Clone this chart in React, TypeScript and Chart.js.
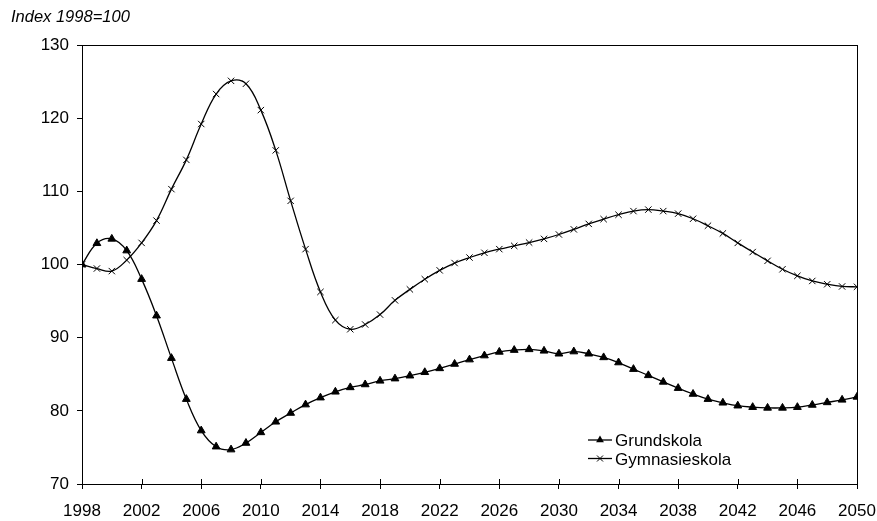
import React, { useEffect, useRef } from "react";
import { Chart, registerables } from "chart.js";

Chart.register(...registerables);

const years: number[] = [];
for (let y = 1998; y <= 2050; y++) years.push(y);

const grundskola = [
  100, 102.9, 103.5, 101.9, 98.0, 93.0, 87.2, 81.6, 77.3, 75.1,
  74.7, 75.6, 77.05, 78.5, 79.7, 80.85, 81.8, 82.6, 83.2, 83.6,
  84.1, 84.4, 84.8, 85.27, 85.8, 86.4, 87.0, 87.55, 88.05, 88.3,
  88.4, 88.2, 87.8, 88.1, 87.8, 87.3, 86.6, 85.7, 84.85, 83.95,
  83.1, 82.3, 81.6, 81.1, 80.7, 80.5, 80.4, 80.4, 80.5, 80.8,
  81.15, 81.5, 81.9,
];

const gymnasieskola = [
  100, 99.45, 99.1, 100.6, 102.95, 106.0, 110.3, 114.3, 119.2, 123.3,
  125.1, 124.7, 121.1, 115.6, 108.7, 102.1, 96.25, 92.4, 91.15, 91.8,
  93.15, 95.1, 96.6, 97.99, 99.2, 100.2, 100.95, 101.6, 102.1, 102.55,
  103.0, 103.5, 104.1, 104.8, 105.55, 106.2, 106.8, 107.3, 107.5, 107.3,
  106.95, 106.25, 105.3, 104.25, 102.95, 101.7, 100.5, 99.35, 98.45, 97.75,
  97.3, 97.0, 96.95,
];

const xTicks = [1998, 2002, 2006, 2010, 2014, 2018, 2022, 2026, 2030, 2034, 2038, 2042, 2046, 2050];
const seriesNames = ["Grundskola", "Gymnasieskola"];
const titleText = "Index 1998=100";

const FONT = "'Liberation Sans', Arial, sans-serif";

export default function App() {
  const ref = useRef<HTMLCanvasElement | null>(null);

  useEffect(() => {
    if (!ref.current) return;
    const decor = {
      id: "decor",
      afterDraw(chart: any) {
        const ctx = chart.ctx;
        const a = chart.chartArea;
        ctx.save();
        ctx.strokeStyle = "#000";
        ctx.lineWidth = 1;
        ctx.strokeRect(Math.round(a.left) + 0.5, Math.round(a.top) + 0.5, Math.round(a.right - a.left), Math.round(a.bottom - a.top));
        // inner part of x ticks (crossing)
        const xs = chart.scales.x;
        ctx.beginPath();
        xTicks.forEach((t) => {
          const px = Math.round(xs.getPixelForValue(t)) + 0.5;
          ctx.moveTo(px, a.bottom - 5);
          ctx.lineTo(px, a.bottom);
        });
        ctx.stroke();
        // title
        ctx.fillStyle = "#000";
        ctx.font = `italic 16.5px ${FONT}`;
        ctx.textBaseline = "alphabetic";
        ctx.textAlign = "left";
        ctx.fillText(titleText, 11, 22);
        // legend
        ctx.font = `17px ${FONT}`;
        const lx = a.right - 269;
        const ly = a.bottom - 44;
        const gap = 18.5;
        for (let i = 0; i < 2; i++) {
          const yy = ly + i * gap;
          ctx.beginPath();
          ctx.lineWidth = 1.3;
          ctx.moveTo(lx, yy);
          ctx.lineTo(lx + 24, yy);
          ctx.stroke();
          ctx.lineWidth = 1;
          const cx = lx + 12;
          if (i === 0) {
            ctx.beginPath();
            const r = 4.5;
            ctx.moveTo(cx, yy - r);
            ctx.lineTo(cx + r * 0.866, yy + r * 0.5);
            ctx.lineTo(cx - r * 0.866, yy + r * 0.5);
            ctx.closePath();
            ctx.fill();
          } else {
            const r = 3;
            ctx.beginPath();
            ctx.moveTo(cx - r, yy - r);
            ctx.lineTo(cx + r, yy + r);
            ctx.moveTo(cx + r, yy - r);
            ctx.lineTo(cx - r, yy + r);
            ctx.stroke();
          }
          ctx.fillText(seriesNames[i], lx + 27, yy + 6);
        }
        ctx.restore();
      },
    };

    const chart = new Chart(ref.current, {
      type: "line",
      data: {
        datasets: [
          {
            label: seriesNames[0],
            data: years.map((y, i) => ({ x: y, y: grundskola[i] })),
            borderColor: "#000",
            backgroundColor: "#000",
            borderWidth: 1.3,
            tension: 0.4,
            pointStyle: "triangle",
            pointRadius: 4.5,
            pointBorderWidth: 1,
            pointBackgroundColor: "#000",
            pointBorderColor: "#000",
          },
          {
            label: seriesNames[1],
            data: years.map((y, i) => ({ x: y, y: gymnasieskola[i] })),
            borderColor: "#000",
            backgroundColor: "#000",
            borderWidth: 1.3,
            tension: 0.4,
            pointStyle: "crossRot",
            pointRadius: 4.5,
            pointBorderWidth: 1,
            pointBorderColor: "#000",
          },
        ],
      },
      options: {
        responsive: false,
        animation: false,
        layout: { padding: { left: 0, right: 20, top: 45, bottom: 0 } },
        plugins: {
          legend: { display: false },
          tooltip: { enabled: false },
          title: { display: false },
        },
        scales: {
          x: {
            type: "linear",
            min: 1998,
            max: 2050,
            afterBuildTicks: (scale: any) => {
              scale.ticks = xTicks.map((v) => ({ value: v }));
            },
            afterFit: (scale: any) => {
              scale.height = 37;
              scale.paddingLeft = 0;
              scale.paddingRight = 0;
            },
            ticks: {
              autoSkip: false,
              maxRotation: 0,
              color: "#000",
              font: { family: FONT, size: 17 },
              padding: 12,
              callback: (v: any) => String(v),
            },
            grid: { drawOnChartArea: false, drawTicks: true, tickLength: 5, color: "#000" },
            border: { display: true, color: "#000", width: 1 },
          },
          y: {
            min: 70,
            max: 130,
            afterFit: (scale: any) => {
              scale.width = 82;
              scale.paddingTop = 0;
              scale.paddingBottom = 0;
            },
            ticks: {
              stepSize: 10,
              color: "#000",
              font: { family: FONT, size: 17 },
              padding: 8,
            },
            grid: { drawOnChartArea: false, drawTicks: true, tickLength: 5, color: "#000" },
            border: { display: true, color: "#000", width: 1 },
          },
        },
      },
      plugins: [decor],
    } as any);
    return () => chart.destroy();
  }, []);

  return (
    <div style={{ position: "absolute", left: 0, top: 0, width: 877, height: 521, background: "#fff" }}>
      <canvas ref={ref} width={877} height={521} style={{ display: "block" }} />
    </div>
  );
}
